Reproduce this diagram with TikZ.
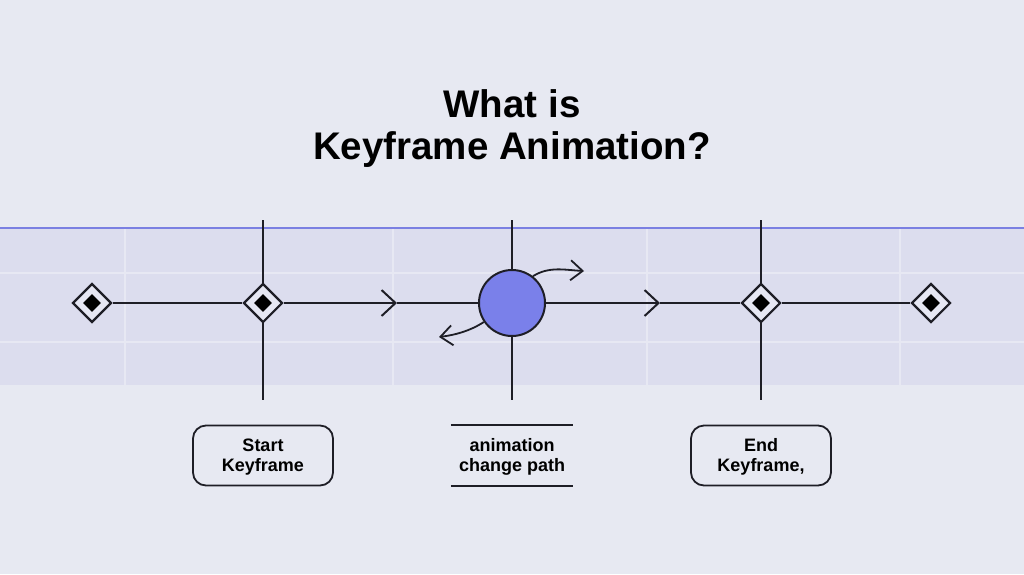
\documentclass[tikz,border=0pt]{standalone}
\usepackage{fontspec}
\setmainfont{Liberation Sans}
\usetikzlibrary{shapes.geometric,arrows.meta,positioning}
\definecolor{bgcol}{HTML}{E7E9F2}
\definecolor{bandcol}{HTML}{DCDDEE}
\definecolor{gridcol}{HTML}{E7E8F3}
\definecolor{topcol}{HTML}{7B80E2}
\definecolor{dotcol}{HTML}{7A80EA}
\definecolor{inkcol}{HTML}{1E1E26}
\tikzset{keyouter/.style={diamond,draw=inkcol,fill=bandcol!70!white,line width=2.2pt,minimum size=39pt,inner sep=0pt}}
\tikzset{keyinner/.style={diamond,fill=black,minimum size=18pt,inner sep=0pt}}
\tikzset{track/.style={draw=inkcol,line width=2pt}}
\tikzset{chevron/.style={-{Straight Barb[length=14pt,width=26pt]}}}
\tikzset{swirl/.style={draw=inkcol,line width=1.8pt,-{Straight Barb[length=12pt,width=20pt]}}}
\tikzset{labeltext/.style={align=center,font=\fontsize{18}{20}\selectfont\bfseries}}
\tikzset{labelbox/.style={labeltext,rectangle,rounded corners=13pt,draw=inkcol,line width=1.8pt,minimum width=140pt,minimum height=60pt}}
\tikzset{pathtext/.style={labeltext,rectangle,minimum width=122pt,minimum height=60pt}}

\begin{document}
\begin{tikzpicture}[x=1pt,y=-1pt]
\useasboundingbox (0,0) rectangle (1024,574);
\fill[bgcol] (0,0) rectangle (1024,574);
% timeline band
\fill[bandcol] (0,228) rectangle (1024,385);
\foreach \gx in {125,393,647,900}
	\draw[gridcol,line width=1.2pt] (\gx,229) -- (\gx,385);
\foreach \gy in {273,342}
	\draw[gridcol,line width=1.2pt] (0,\gy) -- (1024,\gy);
\draw[topcol,line width=1.5pt] (0,228) -- (1024,228);

\node (title) at (512,129) [align=center,font=\fontsize{38.5}{42}\selectfont\bfseries] {What is\\Keyframe Animation?};

% vertical markers
\foreach \vx in {263,512,761}
	\draw[track] (\vx,220) -- (\vx,400);

% keyframes
\node (keyA) [keyouter] at (92,303) {};
\node (keyB) [keyouter] at (263,303) {};
\node (circ) [circle,draw=inkcol,fill=dotcol,line width=2pt,minimum size=66pt,inner sep=0pt] at (512,303) {};
\node (keyC) [keyouter] at (761,303) {};
\node (keyD) [keyouter] at (931,303) {};
\foreach \k in {keyA,keyB,keyC,keyD}
	\node [keyinner] at (\k) {};

\coordinate (tipL) at (397,303);
\coordinate (tipR) at (660,303);
\draw[track] (keyA) -- (keyB);
\draw[track,chevron] (keyB) -- (tipL);
\draw[track] (tipL) -- (circ);
\draw[track,chevron] (circ) -- (tipR);
\draw[track] (tipR) -- (keyC);
\draw[track] (keyC) -- (keyD);

% motion arrows
\coordinate (swirlUp) at (584,271);
\coordinate (swirlDown) at (439,337);
\draw[swirl] (circ.52) .. controls (549,266) and (565,270) .. (swirlUp);
\draw[swirl] (circ.214) .. controls (470,331) and (455,335) .. (swirlDown);

% labels
\node (startBox) [labelbox] at (263,455.5) {};
\node [labeltext] at (263,457) {Start\\Keyframe};
\node (pathLbl) [pathtext] at (512,455.5) {};
\node [labeltext] at (512,457) {animation\\change path};
\draw[inkcol,line width=1.8pt] (pathLbl.north west) -- (pathLbl.north east);
\draw[inkcol,line width=1.8pt] (pathLbl.south west) -- (pathLbl.south east);
\node (endBox) [labelbox] at (761,455.5) {};
\node [labeltext] at (761,457) {End\\Keyframe,};
\end{tikzpicture}
\end{document}
